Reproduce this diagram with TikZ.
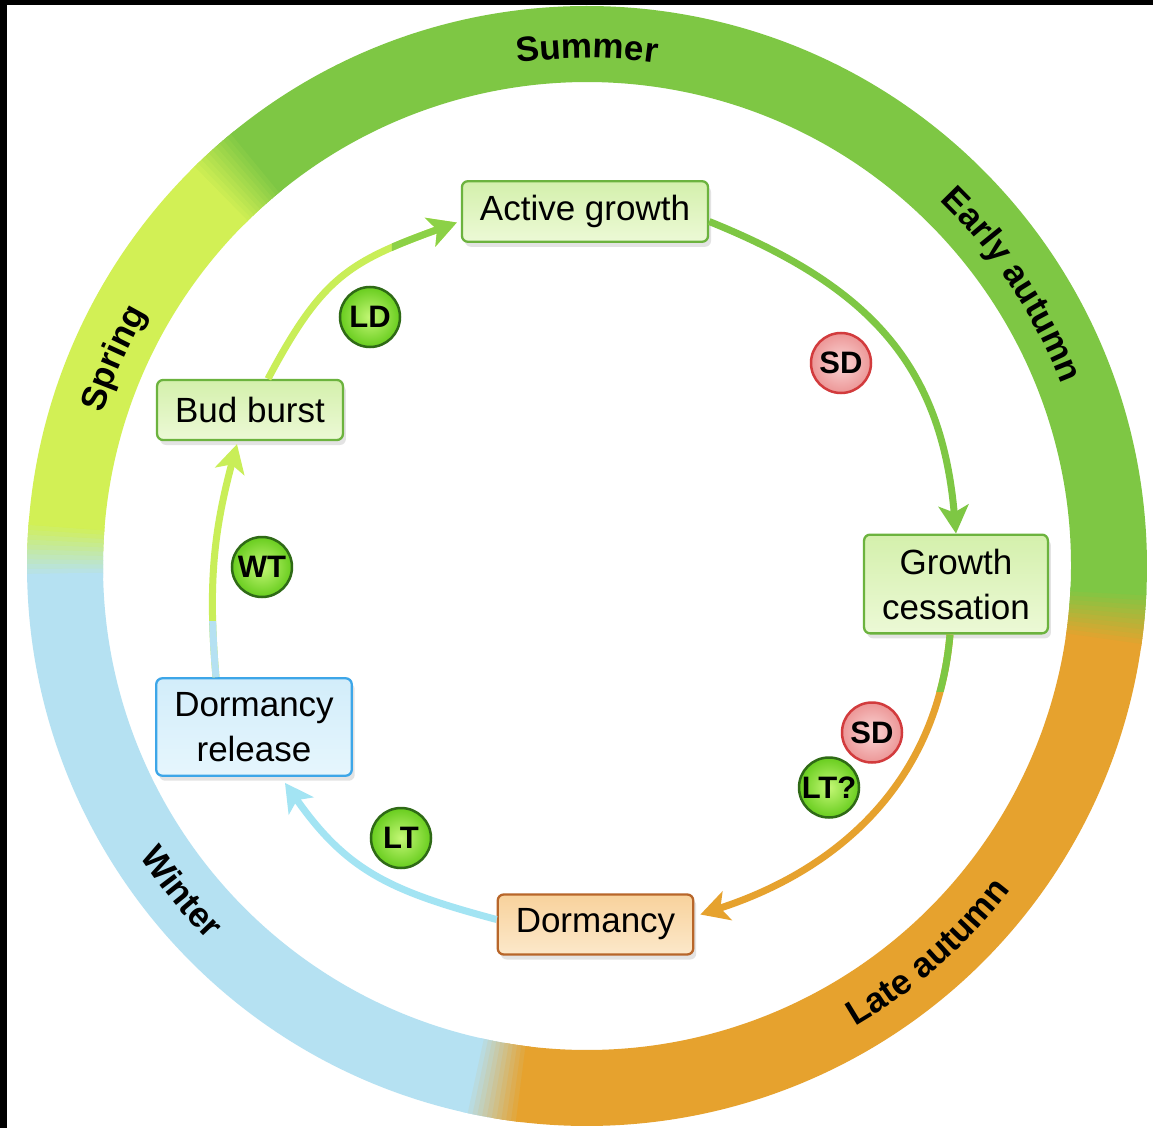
\documentclass[tikz,border=0pt]{standalone}
\usepackage{fontspec}
\setmainfont{Liberation Sans}
\usetikzlibrary{arrows.meta,shadows,decorations.text}

\definecolor{summer}{HTML}{7EC744}
\definecolor{spring}{HTML}{D2F055}
\definecolor{winter}{HTML}{B5E1F2}
\definecolor{lateaut}{HTML}{E6A22E}
\definecolor{boxgreen}{HTML}{6CB33E}
\definecolor{boxblue}{HTML}{3DA6E8}
\definecolor{boxbrown}{HTML}{B8662A}
\definecolor{badgeline}{HTML}{2F6A16}
\definecolor{sdline}{HTML}{D23B3D}
\definecolor{budarrow}{HTML}{C9EE58}
\definecolor{headgreen}{HTML}{8CD147}

\newcommand\seasonfont{\fontsize{35}{40}\selectfont\bfseries}

\tikzset{
  stage/.style={rounded corners=6pt, line width=2.3pt, inner xsep=18pt, inner ysep=14pt,
    minimum height=60pt, align=center, font=\fontsize{35}{45}\selectfont,
    drop shadow={opacity=0.22, shadow xshift=3pt, shadow yshift=-5pt}},
  gstage/.style={stage, draw=boxgreen, top color={rgb,255:red,212;green,240;blue,172}, bottom color={rgb,255:red,236;green,249;blue,214}},
  bstage/.style={stage, draw=boxblue, top color={rgb,255:red,210;green,237;blue,250}, bottom color={rgb,255:red,230;green,246;blue,253}},
  ostage/.style={stage, draw=boxbrown, top color={rgb,255:red,248;green,210;blue,156}, bottom color={rgb,255:red,252;green,232;blue,202}},
  badge/.style={circle, minimum size=60pt, inner sep=0pt, line width=2.5pt, font=\fontsize{31}{33}\selectfont\bfseries},
  gbadge/.style={badge, draw=badgeline, inner color={rgb,255:red,196;green,247;blue,118}, outer color={rgb,255:red,104;green,205;blue,30}},
  rbadge/.style={badge, draw=sdline, inner color={rgb,255:red,250;green,214;blue,214}, outer color={rgb,255:red,236;green,150;blue,150}},
  flow/.style={line width=7pt, -{Stealth[length=28pt,width=30pt,inset=7pt]}},
  season/.style={decorate, decoration={text along path, text align=center, text={|\seasonfont|#1}}}
}

\begin{document}
\begin{tikzpicture}[x=1pt,y=1pt]
\useasboundingbox (-587,-562) rectangle (566,566);
\fill[white] (-587,-562) rectangle (566,566);
\fill[black] (-587,561) rectangle (566,566);
\fill[black] (-587,-562) rectangle (-580,566);
\coordinate (O) at (0,0);

% seasons ring
\foreach \a/\b/\c in {-5.5/132/summer, 132/178.3/spring, 178.3/260.2/winter, 260.2/354.5/lateaut}
  \fill[\c] (\a:484) arc[start angle=\a, end angle=\b, radius=484] -- (\b:560) arc[start angle=\b, end angle=\a, radius=560] -- cycle;
\foreach \b/\ca/\cb in {-5.5/lateaut/summer, 132/summer/spring, 178.3/spring/winter, 260.2/winter/lateaut}{
  \foreach \i in {0,...,11}{
    \pgfmathsetmacro\aa{\b-3+\i*0.5}
    \pgfmathsetmacro\pp{100-\i*100/11}
    \fill[\ca!\pp!\cb] (\aa:484) arc[start angle=\aa, delta angle=0.6, radius=484] -- ({\aa+0.6}:560) arc[start angle={\aa+0.6}, delta angle=-0.6, radius=560] -- cycle;
  }
}
\path[season=Summer] (120:508) arc[start angle=120, end angle=60, radius=508];
\path[season={Early autumn}] (63.5:508) arc[start angle=63.5, end angle=3.5, radius=508];
\path[season={Late autumn}] (-78.6:533) arc[start angle=-78.6, end angle=-18.6, radius=533];
\path[season=Winter] (188.8:533) arc[start angle=188.8, end angle=248.8, radius=533];
\path[season=Spring] (186.3:508) arc[start angle=186.3, end angle=126.3, radius=508];

% stages
\node[gstage] (ag) at (-2,354.5) {Active growth};
\node[gstage] (gc) at (369,-18) {Growth\\cessation};
\node[ostage] (dm) at (8.5,-358.5) {Dormancy};
\node[bstage] (dre) at (-333,-161) {Dormancy\\release};
\node[gstage] (bb) at (-337,156) {Bud burst};

% transitions
\draw[flow, budarrow] ([xshift=18pt]bb.north) to[out=62, in=-160, looseness=1.2] ([xshift=-4pt,yshift=-11pt]ag.west);
\begin{scope}
\clip (-195,250) rectangle (-100,400);
\draw[flow, headgreen] ([xshift=18pt]bb.north) to[out=62, in=-160, looseness=1.2] ([xshift=-4pt,yshift=-11pt]ag.west);
\end{scope}
\draw[flow, summer] ([yshift=-10pt]ag.east) to[out=-22, in=95, looseness=1.1] (gc.north);
\draw[flow, lateaut] ([xshift=-6pt]gc.south) to[out=-95, in=18, looseness=1] ([xshift=6pt,yshift=10pt]dm.east);
\begin{scope}
\clip (250,-125) rectangle (450,-60);
\draw[line width=7pt, summer] ([xshift=-6pt]gc.south) to[out=-95, in=18, looseness=1] ([xshift=6pt,yshift=10pt]dm.east);
\end{scope}
\draw[flow, winter!90!cyan] ([yshift=5pt]dm.west) to[out=165, in=-55, looseness=1.1] ([xshift=31pt,yshift=-6pt]dre.south);
\draw[flow, budarrow] ([xshift=-38pt]dre.north) to[out=95, in=-105] ([xshift=-13pt,yshift=-3pt]bb.south);
\begin{scope}
\clip (-450,-115) rectangle (-300,-55);
\draw[line width=7pt, winter] ([xshift=-38pt]dre.north) to[out=95, in=-105] ([xshift=-13pt,yshift=-3pt]bb.south);
\end{scope}

% signals
\node[gbadge] (ld) at (-217,249) {LD};
\node[rbadge] (sd1) at (254,203) {SD};
\node[gbadge] (wt) at (-325,-1) {WT};
\node[rbadge] (sd2) at (285,-166.5) {SD};
\node[gbadge] (ltq) at (242,-221.5) {LT?};
\node[gbadge] (lt) at (-186,-272) {LT};
\end{tikzpicture}
\end{document}
